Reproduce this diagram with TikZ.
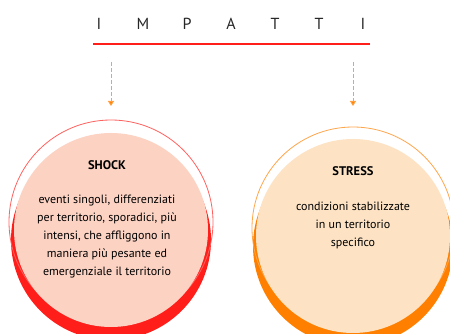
\documentclass[tikz,border=0pt]{standalone}
\usepackage{fontspec}
\usetikzlibrary{arrows.meta}
\setmainfont{PT Sans}
\definecolor{rosso}{RGB}{255,30,25}
\definecolor{arancio}{RGB}{255,128,0}
\definecolor{pesca}{RGB}{252,210,195}
\definecolor{crema}{RGB}{253,227,196}
\begin{document}
\begin{tikzpicture}[
        x=1pt, y=-1pt, % coordinate come nel disegno
        lettera/.style = {font=\fontsize{16}{16}\selectfont\color{black!85}, inner sep=0pt},
        freccia/.style = {draw=arancio!75, dash pattern=on 4pt off 2pt, line width=0.9pt,
                -{Triangle[length=5pt,width=6pt,fill=arancio]}},
        titolo/.style = {font=\bfseries\fontsize{12.5}{14}\selectfont, inner sep=0pt},
        testo/.style = {font=\fontsize{12}{18}\selectfont, align=center, inner sep=0pt}, % testo nei cerchi
    ]
    \useasboundingbox[fill=white] (0,0) rectangle (450,334);

    % titolo
    \foreach \l [count=\i] in {I,M,P,A,T,T,I}
        \node[lettera] (t\i) at ({99+44*(\i-1)},24) {\l};
    \coordinate (lineaA) at (93,44);
    \coordinate (lineaB) at (370,44);
    \draw[rosso, line width=2.5pt] (lineaA) -- (lineaB);

    % cerchio shock
    \fill[rosso] (111,240) circle (100);
    \draw[rosso!70, line width=0.8pt] (111,222) circle (102);
    \fill[pesca] (111,230) circle (97);
    \node[titolo] (shock) at (107,165) {SHOCK};
    \node[testo] (shocktxt) at (107,236.5) {eventi singoli, differenziati\\per territorio, sporadici, più\\intensi, che affliggono in\\maniera più pesante ed\\emergenziale il territorio};

    % cerchio stress
    \fill[arancio] (353,246) circle (100);
    \draw[arancio!70, line width=0.8pt] (353,228) circle (101);
    \fill[crema] (353,236) circle (97);
    \node[titolo] (stress) at (353,171) {STRESS};
    \node[testo] (stresstxt) at (353,225) {condizioni stabilizzate\\in un territorio\\specifico};

    % frecce
    \coordinate (s1) at (111,62);
    \coordinate (e1) at (111,106);
    \coordinate (s2) at (353,62);
    \coordinate (e2) at (353,106);
    \draw[freccia] (s1) -- (e1);
    \draw[freccia] (s2) -- (e2);
\end{tikzpicture}
\end{document}
